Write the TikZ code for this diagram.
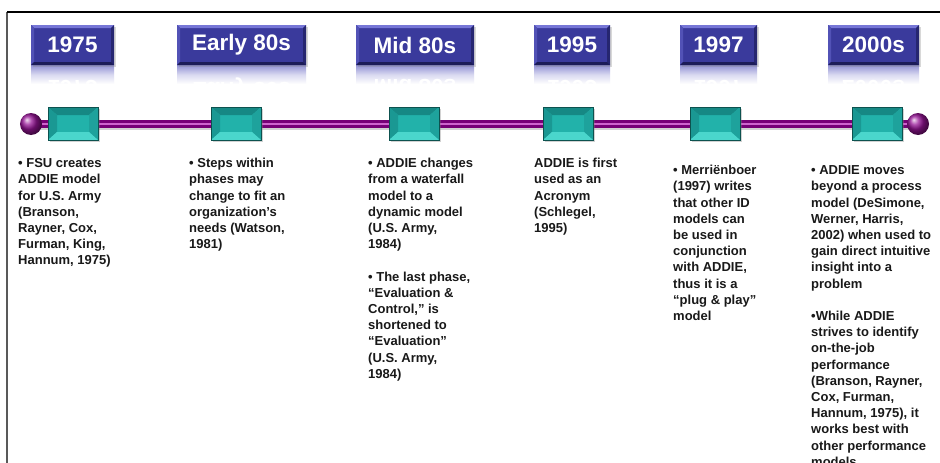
\documentclass[tikz,border=0pt]{standalone}
\usepackage{fontspec}
\setmainfont{Liberation Sans}
\usepackage{graphicx}
\usetikzlibrary{shadows}
\definecolor{boxblue}{RGB}{58,58,156}
\definecolor{bvlight}{RGB}{118,118,214}
\definecolor{bvmid}{RGB}{82,82,182}
\definecolor{bvdark}{RGB}{38,38,112}
\definecolor{bvdarker}{RGB}{28,28,88}
\definecolor{tealmain}{RGB}{34,178,170}
\definecolor{tealtop}{RGB}{22,136,132}
\definecolor{tealleft}{RGB}{26,152,147}
\definecolor{tealright}{RGB}{30,162,156}
\definecolor{tealbot}{RGB}{74,214,204}
\definecolor{barpurple}{RGB}{118,0,118}
\definecolor{ballpurple}{RGB}{150,20,150}
\definecolor{barlight}{RGB}{205,100,205}
\definecolor{txt}{RGB}{25,25,25}
\definecolor{refl}{RGB}{150,150,214}
\newcommand\bevelpic[6]{%
  \path (path picture bounding box.north west) coordinate (bvnw)
        (path picture bounding box.north east) coordinate (bvne)
        (path picture bounding box.south west) coordinate (bvsw)
        (path picture bounding box.south east) coordinate (bvse);
  \fill[#3] (bvnw) -- (bvne) -- ([xshift=-#1,yshift=-#2]bvne) -- ([xshift=#1,yshift=-#2]bvnw) -- cycle;
  \fill[#4] (bvnw) -- ([xshift=#1,yshift=-#2]bvnw) -- ([xshift=#1,yshift=#2]bvsw) -- (bvsw) -- cycle;
  \fill[#5] (bvne) -- ([xshift=-#1,yshift=-#2]bvne) -- ([xshift=-#1,yshift=#2]bvse) -- (bvse) -- cycle;
  \fill[#6] (bvsw) -- ([xshift=#1,yshift=#2]bvsw) -- ([xshift=-#1,yshift=#2]bvse) -- (bvse) -- cycle;
}
\tikzset{
  yearbox/.style={fill=boxblue, text=white, inner sep=0pt, minimum height=40pt,
    font=\fontsize{22.5}{27}\selectfont\bfseries,
    drop shadow={opacity=0.3, shadow xshift=1.5pt, shadow yshift=-1.5pt},
    path picture={\bevelpic{3pt}{3pt}{bvlight}{bvmid}{bvdark}{bvdarker}}},
  reflbox/.style={inner sep=0pt, text=white,
    font=\fontsize{22.5}{27}\selectfont\bfseries},
  tealbox/.style={fill=tealmain, draw=tealtop!60!black, line width=0.4pt, inner sep=0pt,
    minimum width=50pt, minimum height=33pt,
    drop shadow={opacity=0.35, shadow xshift=1.5pt, shadow yshift=-1.5pt},
    path picture={\bevelpic{9pt}{8pt}{tealtop}{tealleft}{tealright}{tealbot}}},
  ball/.style={circle, inner sep=0pt, minimum size=22pt, shading=ball, ball color=ballpurple},
  desc/.style={anchor=north west, inner sep=0pt, align=left, text=txt,
    font=\fontsize{13}{16.2}\selectfont\bfseries},
  frameline/.style={draw=black!75}
}
\newcommand\fs{\rule{0pt}{10pt}}
\begin{document}
\begin{tikzpicture}[x=1pt,y=-1pt]
\useasboundingbox (0,0) rectangle (940,463);
\fill[white] (0,0) rectangle (940,463);
% frame
\coordinate (fbl) at (7,463);
\coordinate (ftl) at (7,12);
\coordinate (ftr) at (940,12);
\draw[frameline, line width=2pt, draw=black!65] (fbl) -- (ftl);
\draw[frameline, line width=1.2pt, draw=black] (ftl) -- (ftr);

% year boxes with reflections
\foreach \n/\cx/\w/\t in {y1/72.5/83/1975, y2/241.5/129/Early 80s, y3/415/118/Mid 80s,
                          y4/572/76/1995, y5/718.5/77/1997, y6/873.5/91/2000s}{
  \begin{scope}
    \clip (\cx-\w/2,65.5) rectangle (\cx+\w/2,84);
    \shade[top color=refl, bottom color=white, middle color=refl!35!white] (\cx-\w/2,65.5) rectangle (\cx+\w/2,84);
    \node[reflbox] (r\n) at (\cx,88) {\scalebox{1}[-1]{\t}};
  \end{scope}
  \node[yearbox, minimum width=\w pt] (\n) at (\cx,45) {\t};
}

% timeline bar
\coordinate (barL) at (31,124);
\coordinate (barR) at (918,124);
\draw[line width=9pt, black, opacity=0.18] ([yshift=-1.5pt]barL) -- ([yshift=-1.5pt]barR);
\draw[line width=8pt, barpurple] (barL) -- (barR);
\draw[line width=2pt, barlight] (barL) -- (barR);
\node[ball] (ballL) at (barL) {};
\node[ball] (ballR) at (barR) {};

% teal markers
\foreach \n/\cx in {t1/73, t2/236, t3/414, t4/568, t5/715, t6/877}{
  \node[tealbox] (\n) at (\cx,123.5) {};
}

% descriptions
\node[desc] (d1) at (18,157.5) {\fs• FSU creates\\ADDIE model\\for U.S. Army\\(Branson,\\Rayner, Cox,\\Furman, King,\\Hannum, 1975)};
\node[desc] (d2) at (189,157.5) {\fs• Steps within\\phases may\\change to fit an\\organization’s\\needs (Watson,\\1981)};
\node[desc] (d3) at (368,157.5) {\fs• ADDIE changes\\from a waterfall\\model to a\\dynamic model\\(U.S. Army,\\1984)\\[16.2pt]• The last phase,\\“Evaluation \&\\Control,” is\\shortened to\\“Evaluation”\\(U.S. Army,\\1984)};
\node[desc] (d4) at (534,157.5) {\fs ADDIE is first\\used as an\\Acronym\\(Schlegel,\\1995)};
\node[desc] (d5) at (673,164.5) {\fs• Merriënboer\\(1997) writes\\that other ID\\models can\\be used in\\conjunction\\with ADDIE,\\thus it is a\\“plug \& play”\\model};
\node[desc] (d6) at (811,164.5) {\fs• ADDIE moves\\beyond a process\\model (DeSimone,\\Werner, Harris,\\2002) when used to\\gain direct intuitive\\insight into a\\problem\\[16.2pt]•While ADDIE\\strives to identify\\on-the-job\\performance\\(Branson, Rayner,\\Cox, Furman,\\Hannum, 1975), it\\works best with\\other performance\\models};
\end{tikzpicture}
\end{document}
